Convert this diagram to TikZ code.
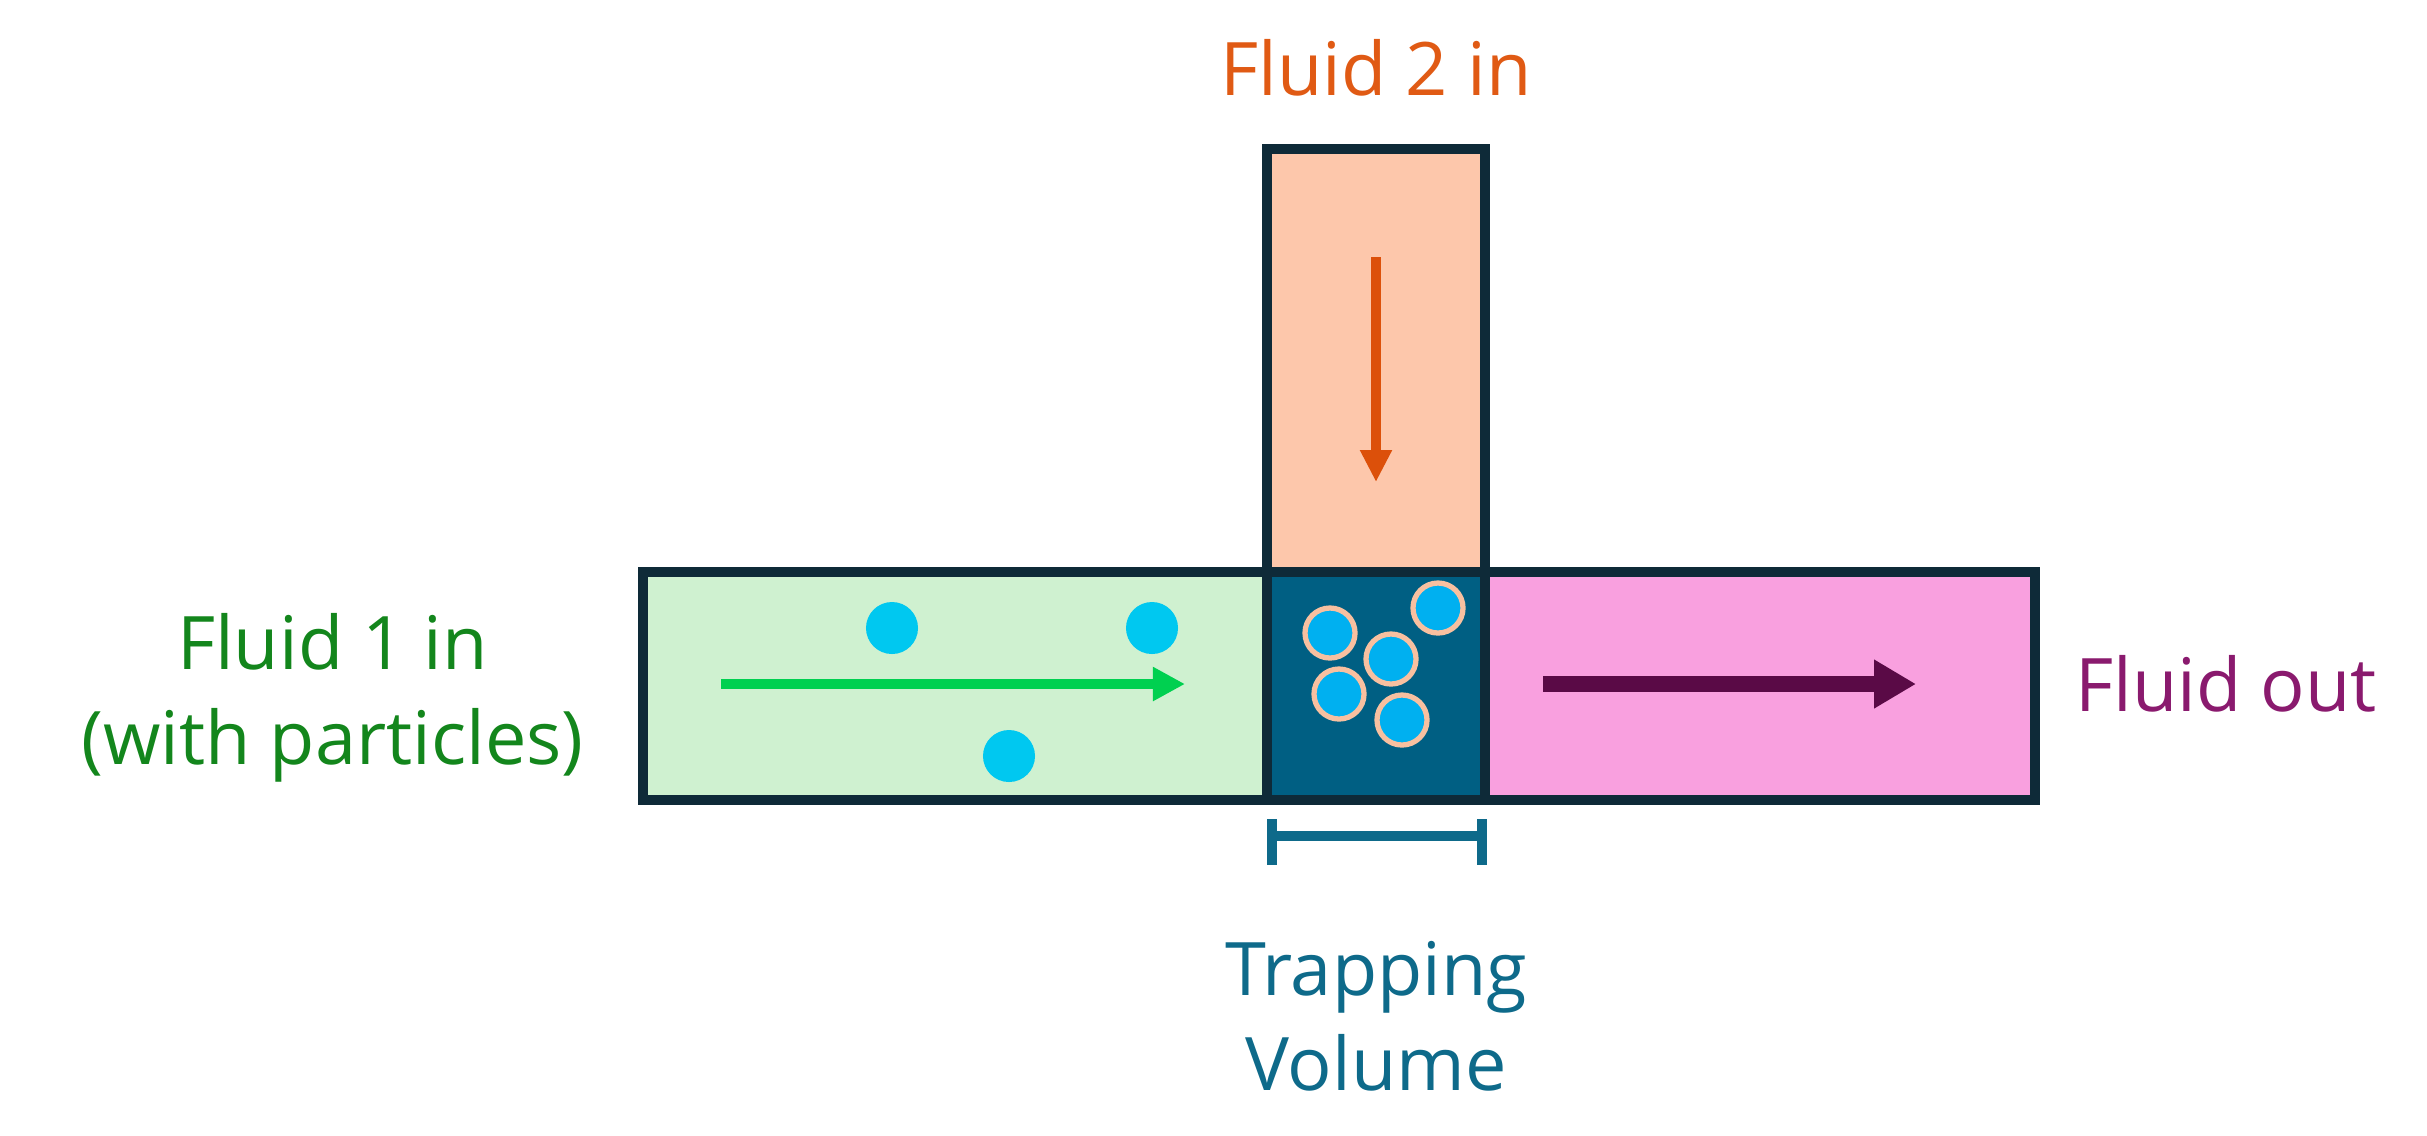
\documentclass[tikz,border=0pt]{standalone}
\usepackage{fontspec}
\setmainfont{Open Sans}
\usetikzlibrary{arrows.meta}
\definecolor{edge}{HTML}{0E2A38}
\definecolor{gfill}{HTML}{CFF1D0}
\definecolor{ofill}{HTML}{FDC7AB}
\definecolor{pfill}{HTML}{F9A0DF}
\definecolor{tfill}{HTML}{005F83}
\definecolor{dot}{HTML}{00C8F0}
\definecolor{tdot}{HTML}{00B0F0}
\definecolor{ring}{HTML}{F8C0A0}
\definecolor{gtext}{HTML}{13861C}
\definecolor{otext}{HTML}{E05A14}
\definecolor{ptext}{HTML}{8A1A6E}
\definecolor{ttext}{HTML}{0E6A8A}
\begin{document}
\begin{tikzpicture}[x=0.01cm,y=-0.01cm,
  chan/.style={draw=edge,line width=3pt},
  lab/.style={font=\fontsize{21}{27}\selectfont,align=center},
  part/.style={circle,fill=dot,minimum size=0.52cm,inner sep=0},
  tpart/.style={circle,fill=tdot,draw=ring,line width=1.5pt,minimum size=0.5cm,inner sep=0}]
\useasboundingbox (0,0) rectangle (2427,1135);
\fill[gfill] (643,572) rectangle (1267,800);
\fill[ofill] (1267,149) rectangle (1485,572);
\fill[pfill] (1485,572) rectangle (2035,800);
\fill[tfill] (1267,572) rectangle (1485,800);
\draw[chan] (643,572) rectangle (2035,800);
\draw[chan] (1267,800) -- (1267,149) -- (1485,149) -- (1485,800);
\node[part] (p1) at (892,628) {};
\node[part] (p2) at (1152,628) {};
\node[part] (p3) at (1009,756) {};
\node[tpart] (t1) at (1330,633) {};
\node[tpart] (t2) at (1438,608) {};
\node[tpart] (t3) at (1391,659) {};
\node[tpart] (t4) at (1339,694) {};
\node[tpart] (t5) at (1402,720) {};
\coordinate (ga) at (721,684); \coordinate (gb) at (1185,684);
\draw[draw={rgb,255:red,0;green,208;blue,80},line width=2.8pt,-{Triangle[length=0.32cm,width=0.32cm]}] (ga) -- (gb);
\coordinate (pa) at (1543,684); \coordinate (pb) at (1916,684);
\draw[draw={rgb,255:red,90;green,10;blue,70},line width=4.3pt,-{Triangle[length=0.42cm,width=0.46cm]}] (pa) -- (pb);
\coordinate (oa) at (1376,257); \coordinate (ob) at (1376,482);
\draw[draw={rgb,255:red,220;green,80;blue,10},line width=2.8pt,-{Triangle[length=0.32cm,width=0.3cm]}] (oa) -- (ob);
\coordinate (ba) at (1270,836); \coordinate (bb) at (1484,836);
\draw[draw=ttext,line width=3pt] (ba) -- (bb);
\draw[draw=ttext,line width=3pt] (1272,819) -- (1272,865) (1482,819) -- (1482,865);
\node[lab,text=otext] (f2) at (1376,68) {Fluid 2 in};
\node[lab,text=gtext,anchor=east] (f1) at (596,698) {Fluid 1 in\\(with particles)};
\node[lab,text=ptext,anchor=west] (fo) at (2063,684) {Fluid out};
\node[lab,text=ttext] (tv) at (1376,1016) {Trapping\\Volume};
\end{tikzpicture}
\end{document}
